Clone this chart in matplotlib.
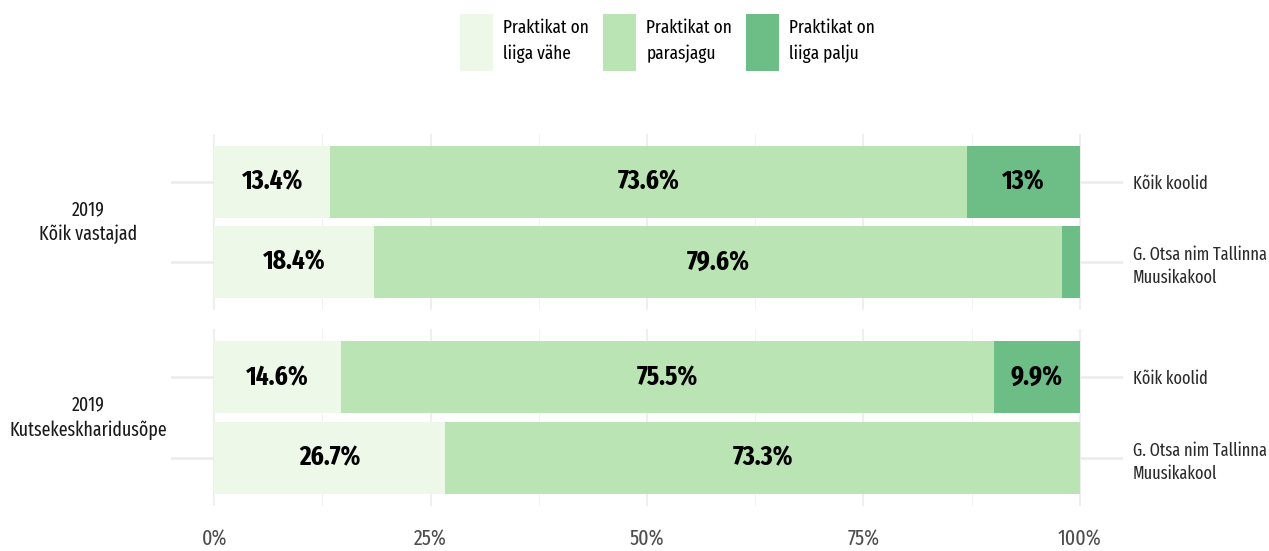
import matplotlib.pyplot as plt
from matplotlib.patches import Patch
from matplotlib import font_manager
from matplotlib.font_manager import FontProperties

# look for a condensed / narrow font among the installed ones
narrow_stretch = {'condensed', 'semi-condensed', 'extra-condensed', 'ultra-condensed', 300, 400, 200, 100}
cands = [f for f in font_manager.fontManager.ttflist
         if (f.stretch in narrow_stretch or 'Condensed' in f.name or 'Narrow' in f.name
             or 'Condensed' in f.fname or 'Narrow' in f.fname)
         and 'Italic' not in f.fname and f.style == 'normal']


def pick(bold):
    best = None
    for f in cands:
        w = f.weight if isinstance(f.weight, int) else (700 if f.weight == 'bold' else 400)
        score = abs(w - (700 if bold else 400))
        if 'Sans' not in f.name:
            score += 50
        if 'ExtraCondensed' in f.fname or f.stretch == 'extra-condensed':
            score -= 30
        if 'Ultra' in f.fname:
            score += 20
        if best is None or score < best[0]:
            best = (score, f)
    return best[1] if best else None


reg_f, bold_f = pick(False), pick(True)
if reg_f:
    FP = FontProperties(fname=reg_f.fname)
    FPB = FontProperties(fname=bold_f.fname)
else:
    FP = FontProperties(family='Liberation Sans')
    FPB = FontProperties(family='Liberation Sans', weight='bold')

groups = ['2019\nKõik vastajad', '2019\nKutsekeskharidusõpe']
schools = ['Kõik koolid', 'G. Otsa nim Tallinna\nMuusikakool']
categories = ['Praktikat on\nliiga vähe', 'Praktikat on\nparasjagu', 'Praktikat on\nliiga palju']
colors = ['#edf8e9', '#bae4b3', '#6cbd86']

# values per group: rows = schools, columns = categories
vastajad = [[13.4, 73.6, 13.0],
            [18.4, 79.6, 2.0]]
kutse = [[14.6, 75.5, 9.9],
         [26.7, 73.3, 0.0]]
panels = [vastajad, kutse]

fig = plt.figure(figsize=(12.69, 5.51), dpi=100)
renderer = fig.canvas.get_renderer()


def fit_size(text, fp, width_px, base=20):
    # font size that gives the text the wanted pixel width
    t = fig.text(0, 0, text, fontproperties=fp, fontsize=base)
    w = t.get_window_extent(renderer).width
    t.remove()
    return base * width_px / w


s_lab = min(fit_size('73.6%', FPB, 62), 24)
s_right = min(fit_size('G. Otsa nim Tallinna', FP, 134), 17)
s_left = min(fit_size('Kutsekeskharidusõpe', FP, 158), 17)
s_leg = min(fit_size('Praktikat on', FP, 86), 17)
s_tick = min(fit_size('100%', FP, 44), 17)

panel_rects = [[171 / 1269, 1 - 310 / 551, 952 / 1269, 176 / 551],
               [171 / 1269, 1 - 506 / 551, 952 / 1269, 177 / 551]]

for p, (data, rect) in enumerate(zip(panels, panel_rects)):
    ax = fig.add_axes(rect)
    ax.set_xlim(-5, 105)
    ax.set_ylim(2.6, 0.4)
    # grid
    for gx in [0, 25, 50, 75, 100]:
        ax.plot([gx, gx], [0.4, 2.6], color='#ebebeb', lw=1.1, zorder=0)
    for gx in [12.5, 37.5, 62.5, 87.5]:
        ax.plot([gx, gx], [0.4, 2.6], color='#f2f2f2', lw=0.7, zorder=0)
    for gy in [1, 2]:
        ax.axhline(gy, color='#ebebeb', lw=1.8, zorder=0)

    for i, row in enumerate(data):
        left = 0
        for j, v in enumerate(row):
            ax.barh(i + 1, v, left=left, height=0.9, color=colors[j],
                    edgecolor='none', zorder=2)
            if v >= 5:
                ax.text(left + v / 2, i + 1, f'{v:g}%', ha='center', va='center',
                        fontproperties=FPB, fontsize=s_lab, color='black', zorder=3)
            left += v

    ax.set_yticks([1, 2])
    ax.set_yticklabels(schools, fontproperties=FP, fontsize=s_right, color='#2b2b2b',
                       linespacing=1.35)
    ax.yaxis.tick_right()
    ax.tick_params(axis='y', length=0, pad=7)
    for lab in ax.get_yticklabels():
        lab.set_multialignment('left')
    ax.set_xticks([0, 25, 50, 75, 100])
    if p == 1:
        ax.set_xticklabels(['0%', '25%', '50%', '75%', '100%'], fontproperties=FP,
                           fontsize=s_tick, color='#4d4d4d')
        ax.tick_params(axis='x', length=0, pad=16)
    else:
        ax.set_xticklabels([])
        ax.tick_params(axis='x', length=0)
    for s in ax.spines.values():
        s.set_visible(False)

    ycen = rect[1] + rect[3] / 2
    fig.text(88 / 1269, ycen, groups[p], ha='center', va='center', fontproperties=FP,
             fontsize=s_left, color='#1a1a1a', multialignment='center', linespacing=1.35)

handles = [Patch(facecolor=c, edgecolor='none') for c in colors]
leg_fp = FP.copy()
leg_fp.set_size(s_leg)
leg = fig.legend(handles, categories, loc='upper center', bbox_to_anchor=(0.526, 1.005),
                 ncol=3, frameon=False, prop=leg_fp, handlelength=1.75, handleheight=4.3,
                 handletextpad=0.55, columnspacing=0.75)
for t in leg.get_texts():
    t.set_linespacing(1.55)

fig.savefig('out.png', dpi=100, facecolor='white')
